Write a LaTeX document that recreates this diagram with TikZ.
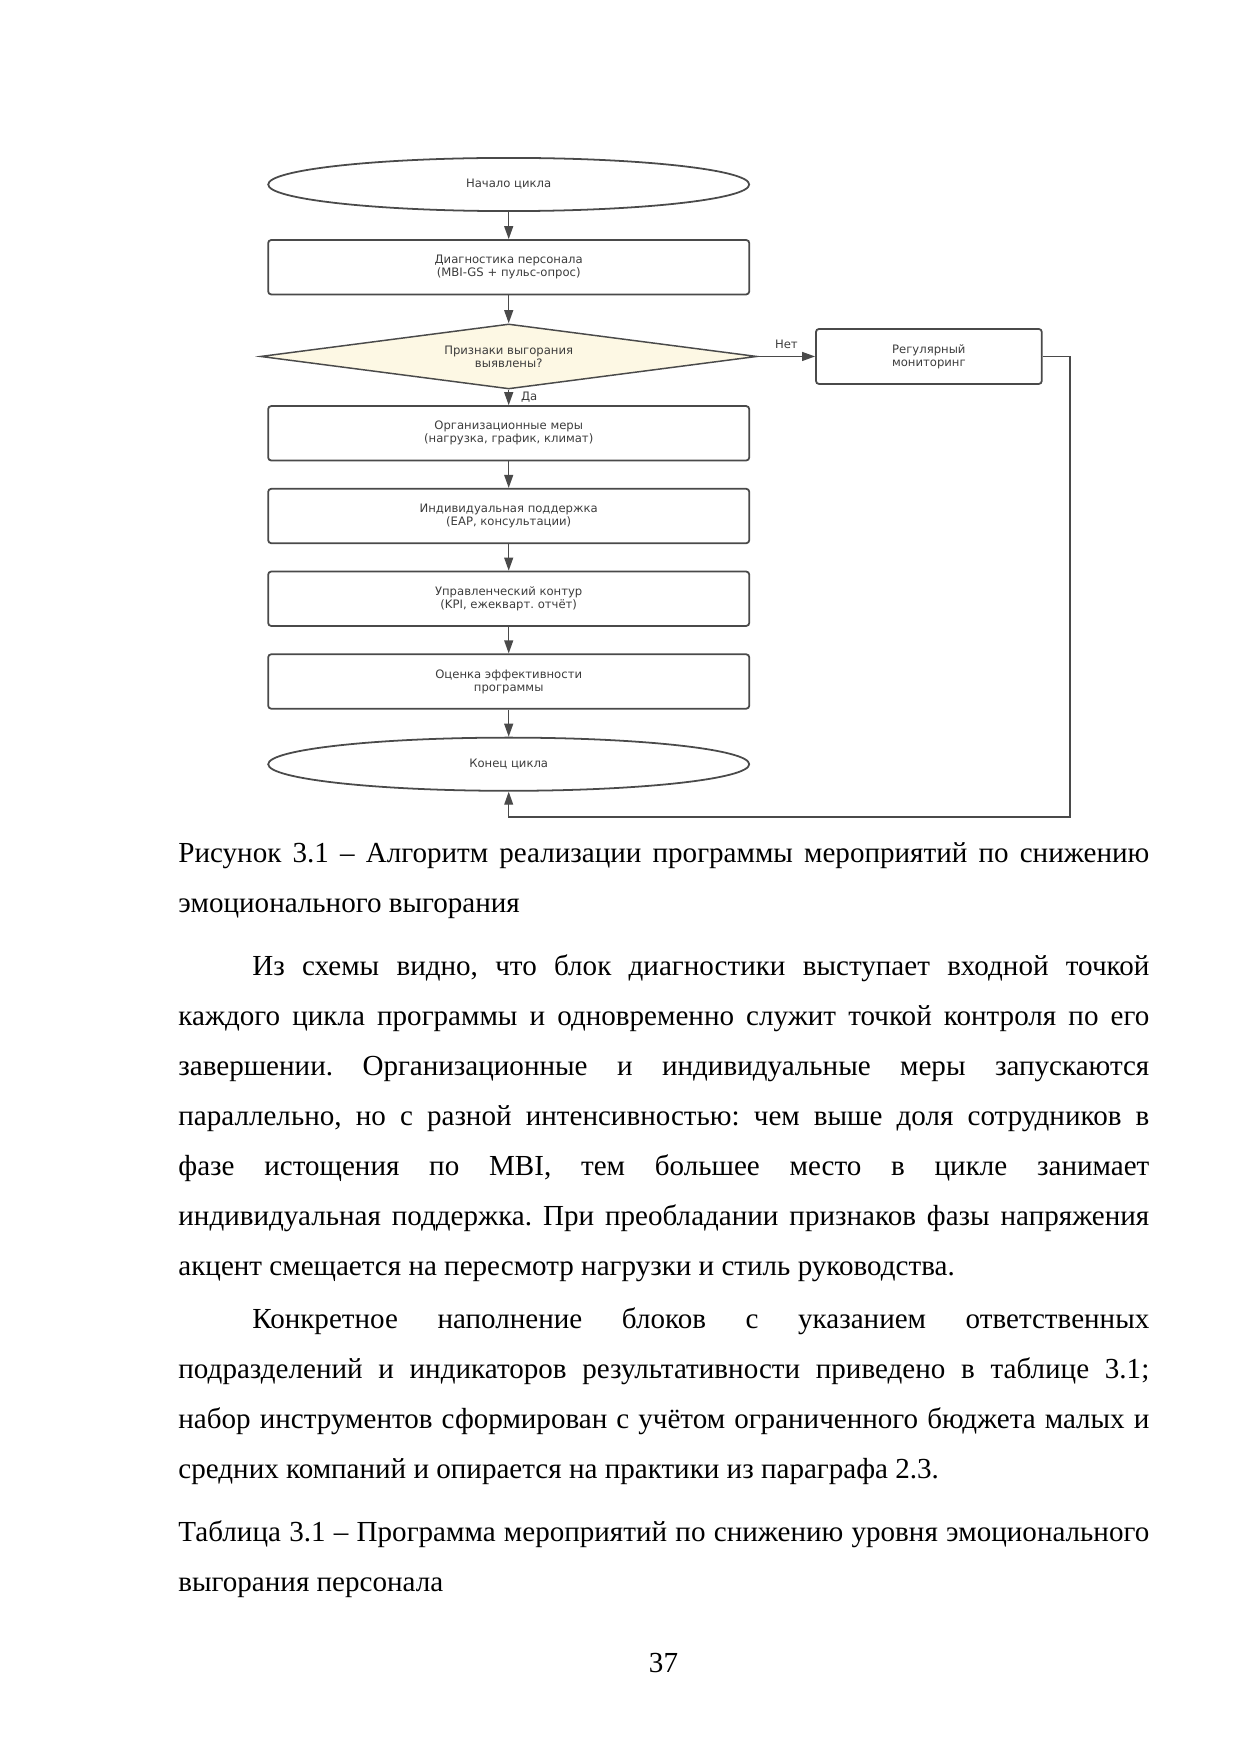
\documentclass[tikz,border=0pt]{standalone}
\usepackage{fontspec}
\setmainfont{Liberation Serif}
\newfontfamily\diagfont{DejaVu Sans}
\usepackage{tikz}
\usetikzlibrary{shapes.geometric,arrows.meta}
\definecolor{linegray}{HTML}{4A4A4A}
\definecolor{textgray}{HTML}{3C3C3C}
\definecolor{condfill}{HTML}{FDF8E4}
\frenchspacing
\newcommand{\pagetext}{\fontsize{14pt}{24.15pt}\selectfont\frenchspacing\hyphenpenalty=10000 \exhyphenpenalty=10000 \tolerance=9999 \emergencystretch=3em}
\newcommand{\boxtext}{\diagfont\fontsize{5.6pt}{6.3pt}\selectfont}

\begin{document}
\begin{tikzpicture}[x=0.16922mm, y=-0.16922mm, >={Triangle[length=2.2mm,width=1.5mm]}, node distance=14mm]
	\tikzstyle{term} = [draw=linegray, line width=0.3mm, ellipse, minimum width=81.4mm, minimum height=9mm, inner sep=0pt, font=\boxtext, text=textgray]
	\tikzstyle{block} = [draw=linegray, line width=0.3mm, rounded corners=0.5mm, minimum width=81.4mm, minimum height=9.2mm, align=center, font=\boxtext, text=textgray]
	\tikzstyle{cond} = [draw=linegray, line width=0.25mm, diamond, aspect=7.6, fill=condfill, minimum width=84mm, minimum height=11mm, inner sep=0pt, align=center, font=\boxtext, text=textgray]
	\tikzstyle{para} = [anchor=base west, inner sep=0pt, text width=164.3mm, align=justify, font=\pagetext]
	\useasboundingbox (0,0) rectangle (1241,1754);
	\begin{scope}
	  \path[->, line width=0.25mm, color=linegray]
	  node[term] at (508.7,184.5) (start) {Начало цикла}
	  node[block, below of=start] (diag) {Диагностика персонала\\(MBI-GS + пульс-опрос)}
	  node[cond, below of=diag, node distance=15.1mm] (burn) {Признаки выгорания\\выявлены?}
	  node[block, right of=burn, node distance=71.1mm, minimum width=38.2mm, minimum height=9.3mm] (mon) {Регулярный\\мониторинг}
	  node[block, below of=burn, node distance=13mm] (org) {Организационные меры\\(нагрузка, график, климат)}
	  node[block, below of=org] (ind) {Индивидуальная поддержка\\(EAP, консультации)}
	  node[block, below of=ind] (ctrl) {Управленческий контур\\(KPI, ежекварт. отчёт)}
	  node[block, below of=ctrl] (eval) {Оценка эффективности\\программы}
	  node[term, below of=eval] (end) {Конец цикла}
	  (start) edge (diag)
	  (diag) edge (burn)
	  (burn) edge node[right=0.8mm, font=\boxtext, text=textgray] {Да} (org)
	  (burn) edge node[above, font=\boxtext, text=textgray] {Нет} (mon)
	  (org) edge (ind)
	  (ind) edge (ctrl)
	  (ctrl) edge (eval)
	  (eval) edge (end)
	  ;
	  \coordinate (loop) at (1070,817);
	  \draw[->, line width=0.2mm, linegray] (mon.east) -| (loop) -| (end.south);
	\end{scope}
	\node[para] (cap) at (178,862.7) {Рисунок 3.1 – Алгоритм реализации программы мероприятий по снижению\linebreak эмоционального выгорания};
	\node[para] (p1) at (178,975) {\hspace*{12.5mm}Из схемы видно, что блок диагностики выступает входной точкой\linebreak каждого цикла программы и одновременно служит точкой контроля по его\linebreak завершении. Организационные и индивидуальные меры запускаются\linebreak параллельно, но с разной интенсивностью: чем выше доля сотрудников в\linebreak фазе истощения по MBI, тем большее место в цикле занимает\linebreak индивидуальная поддержка. При преобладании признаков фазы напряжения\linebreak акцент смещается на пересмотр нагрузки и стиль руководства.};
	\node[para] (p2) at (178,1328) {\hspace*{12.5mm}Конкретное наполнение блоков с указанием ответственных\linebreak подразделений и индикаторов результативности приведено в таблице 3.1;\linebreak набор инструментов сформирован с учётом ограниченного бюджета малых и\linebreak средних компаний и опирается на практики из параграфа 2.3.};
	\node[para] (tab) at (178,1541.5) {Таблица 3.1 – Программа мероприятий по снижению уровня эмоционального\linebreak выгорания персонала};
	\node[anchor=base, inner sep=0pt, font=\pagetext] (num) at (663.5,1672) {37};
\end{tikzpicture}
\end{document}
